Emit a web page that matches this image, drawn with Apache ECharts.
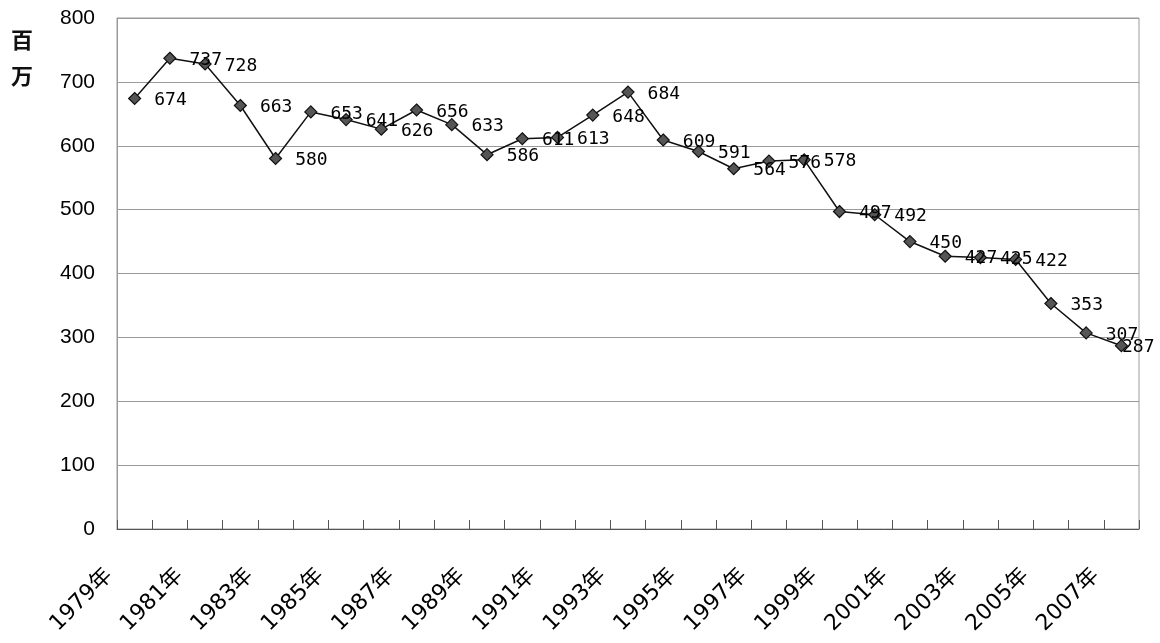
<!DOCTYPE html>
<html>
<head>
<meta charset="utf-8">
<script src="https://cdn.jsdelivr.net/npm/echarts@6/dist/echarts.min.js"></script>
<style>
html,body{margin:0;padding:0;background:#fff;}
#chart{width:1160px;height:643px;}
</style>
</head>
<body>
<div id="chart"></div>
<script>
var years = ['1979年','1980年','1981年','1982年','1983年','1984年','1985年','1986年','1987年','1988年',
  '1989年','1990年','1991年','1992年','1993年','1994年','1995年','1996年','1997年','1998年',
  '1999年','2000年','2001年','2002年','2003年','2004年','2005年','2006年','2007年'];
var values = [674,737,728,663,580,653,641,626,656,633,
  586,611,613,648,684,609,591,564,576,578,
  497,492,450,427,425,422,353,307,287];
var yTicks = [0,100,200,300,400,500,600,700,800];
var unitLabel = ['百','万'];

var seriesData = values.map(function(v, i){
  if (i === values.length - 1) {
    return {value: v, label: {offset: [-19, 2]}};
  }
  return v;
});

var chart = echarts.init(document.getElementById('chart'), null, {renderer:'canvas'});
chart.setOption({
  backgroundColor:'#ffffff',
  animation:false,
  grid:{left:117, right:21, top:18, bottom:114, show:true, borderColor:'#9a9a9a', borderWidth:1, backgroundColor:'transparent'},
  graphic:[
    {type:'text', left:11, top:29, style:{text:unitLabel[0], fontSize:22, fontWeight:'bold', fontFamily:'Noto Sans CJK JP', fill:'#111'}},
    {type:'text', left:11, top:65, style:{text:unitLabel[1], fontSize:22, fontWeight:'bold', fontFamily:'Noto Sans CJK JP', fill:'#111'}}
  ],
  xAxis:{
    type:'category',
    data:years,
    boundaryGap:true,
    axisLine:{show:true, lineStyle:{color:'#555', width:1}},
    axisTick:{show:true, inside:true, length:9, interval:0, lineStyle:{color:'#555'}},
    axisLabel:{interval:1, rotate:45, margin:18, padding:[0,36,0,0], fontSize:22, fontFamily:'DejaVu Sans, Noto Sans CJK JP', color:'#000'},
    splitLine:{show:false}
  },
  yAxis:{
    type:'value',
    min:yTicks[0],
    max:yTicks[yTicks.length-1],
    interval:100,
    axisLine:{show:true, lineStyle:{color:'#9a9a9a'}},
    axisTick:{show:false},
    axisLabel:{margin:22, fontSize:21, fontFamily:'Liberation Sans', color:'#000'},
    splitLine:{show:true, lineStyle:{color:'#9a9a9a', width:1}}
  },
  series:[{
    type:'line',
    data:seriesData,
    symbol:'diamond',
    symbolSize:12,
    showAllSymbol:true,
    lineStyle:{color:'#111', width:1.5},
    itemStyle:{color:'#555', borderColor:'#111', borderWidth:1.2},
    label:{show:true, position:'right', distance:13, offset:[0,2], fontSize:18, fontFamily:'DejaVu Sans Mono', color:'#000'}
  }]
});
</script>
</body>
</html>
